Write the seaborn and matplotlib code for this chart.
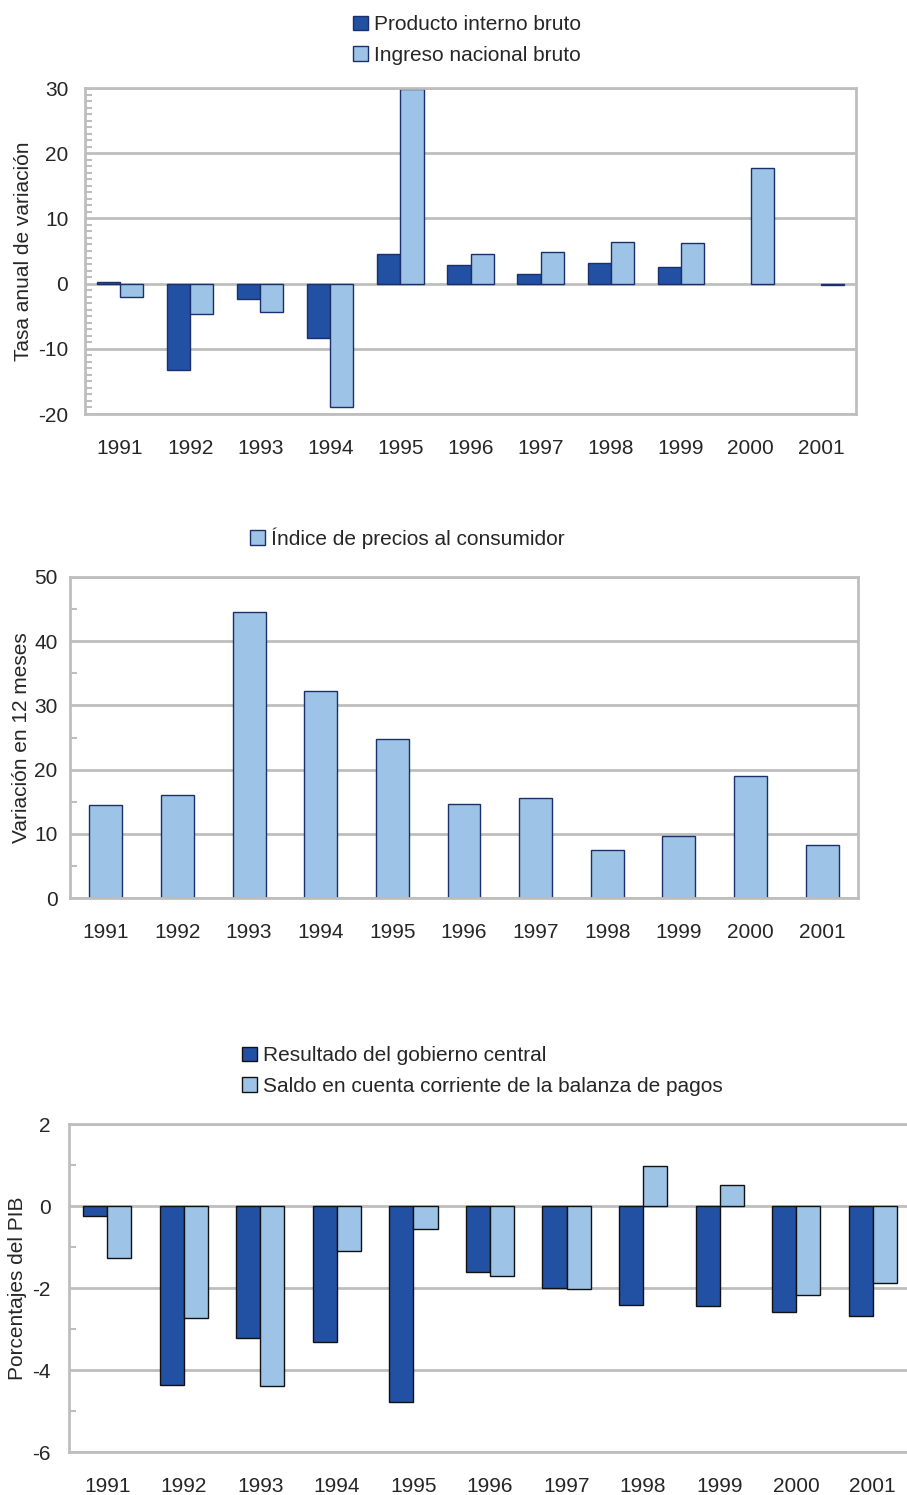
import numpy as np
import pandas as pd
import matplotlib
matplotlib.use('Agg')
import matplotlib.pyplot as plt
import seaborn as sns
from matplotlib.ticker import MultipleLocator

years = ['1991', '1992', '1993', '1994', '1995', '1996', '1997', '1998', '1999', '2000', '2001']

# grafico 1: tasa anual de variacion (sin dato de PIB en 2000-2001)
pib = [0.3, -13.2, -2.3, -8.3, 4.6, 2.8, 1.5, 3.2, 2.5, np.nan, np.nan]
inb = [-2.0, -4.6, -4.3, -18.9, 29.9, 4.6, 4.8, 6.4, 6.2, 17.7, -0.2]

# grafico 2: IPC
ipc = [14.5, 16.1, 44.5, 32.2, 24.7, 14.7, 15.6, 7.4, 9.7, 19.0, 8.2]

# grafico 3: porcentajes del PIB
gobierno = [-0.25, -4.36, -3.23, -3.31, -4.79, -1.62, -2.0, -2.41, -2.43, -2.58, -2.68]
cuenta = [-1.27, -2.74, -4.40, -1.10, -0.55, -1.71, -2.02, 0.98, 0.51, -2.16, -1.87]

dark = '#2251A3'
light = '#9DC3E6'
grid_c = '#BEBEBE'
fs = 15

sns.set_style('white')
plt.rcParams['font.family'] = ['Liberation Sans', 'DejaVu Sans']
plt.rcParams['font.size'] = fs
plt.rcParams['axes.unicode_minus'] = False

W, H = 907, 1495
fig = plt.figure(figsize=(W / 100, H / 100), dpi=100)


def box(l, t, r, b):
    return [l / W, 1 - b / H, (r - l) / W, (b - t) / H]


def style(ax, right=True):
    for s in ['left', 'bottom', 'top', 'right']:
        ax.spines[s].set_color(grid_c)
        ax.spines[s].set_linewidth(2)
    if not right:
        ax.spines['right'].set_visible(False)
    ax.grid(axis='y', color=grid_c, linewidth=2)
    ax.set_axisbelow(True)
    ax.tick_params(axis='y', which='major', length=0, labelsize=fs)
    ax.tick_params(axis='y', which='minor', left=True, direction='in', length=5, width=1.5, color=grid_c)
    ax.tick_params(axis='x', length=0, labelsize=fs, pad=18)
    ax.set_xlabel('')


leg_kw = dict(frameon=False, handlelength=0.7, handleheight=0.7, handletextpad=0.3,
              borderpad=0, fontsize=fs)

# --- chart 1
ax1 = fig.add_axes(box(85, 88, 856, 414))
df1 = pd.DataFrame({'year': years * 2,
                    'valor': pib + inb,
                    'serie': ['Producto interno bruto'] * 11 + ['Ingreso nacional bruto'] * 11})
sns.barplot(data=df1, x='year', y='valor', hue='serie', palette=[dark, light], saturation=1,
            width=0.66, edgecolor='#1B2F6B', linewidth=1, ax=ax1)
ax1.set_ylim(-20, 30)
ax1.set_yticks([-20, -10, 0, 10, 20, 30])
ax1.yaxis.set_minor_locator(MultipleLocator(1))
style(ax1)
ax1.tick_params(axis='y', which='major', pad=12)
ax1.set_ylabel('Tasa anual de variación', fontsize=fs, labelpad=4)
ax1.legend(loc='upper center', bbox_to_anchor=(0.515, 1 - 5 / H), bbox_transform=fig.transFigure,
           labelspacing=0.55, **leg_kw)

# --- chart 2
ax2 = fig.add_axes(box(70, 577, 858, 898))
df2 = pd.DataFrame({'year': years, 'valor': ipc,
                    'serie': ['Índice de precios al consumidor'] * 11})
sns.barplot(data=df2, x='year', y='valor', hue='serie', palette=[light], saturation=1,
            width=0.46, edgecolor='#1B2F6B', linewidth=1, ax=ax2)
ax2.set_ylim(0, 50)
ax2.set_yticks([0, 10, 20, 30, 40, 50])
ax2.yaxis.set_minor_locator(MultipleLocator(5))
style(ax2)
ax2.tick_params(axis='y', which='major', pad=9)
ax2.set_ylabel('Variación en 12 meses', fontsize=fs, labelpad=2)
ax2.legend(loc='upper center', bbox_to_anchor=(0.449, 1 - 517 / H), bbox_transform=fig.transFigure,
           **leg_kw)

# --- chart 3
ax3 = fig.add_axes(box(69, 1124, 911, 1452))
df3 = pd.DataFrame({'year': years * 2,
                    'valor': gobierno + cuenta,
                    'serie': ['Resultado del gobierno central'] * 11 +
                             ['Saldo en cuenta corriente de la balanza de pagos'] * 11})
sns.barplot(data=df3, x='year', y='valor', hue='serie', palette=[dark, light], saturation=1,
            width=0.63, edgecolor='#111111', linewidth=1, ax=ax3)
ax3.set_ylim(-6, 2)
ax3.set_yticks([-6, -4, -2, 0, 2])
ax3.yaxis.set_minor_locator(MultipleLocator(1))
style(ax3, right=False)
ax3.tick_params(axis='y', which='major', pad=13)
ax3.set_ylabel('Porcentajes del PIB', fontsize=fs, labelpad=4)
ax3.legend(loc='upper left', bbox_to_anchor=(232 / W, 1 - 1036 / H), bbox_transform=fig.transFigure,
           labelspacing=0.55, **leg_kw)

fig.savefig('out.png', dpi=100)
